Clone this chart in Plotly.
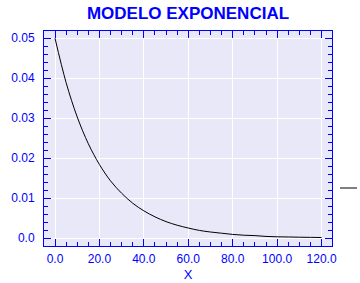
import plotly.graph_objects as go

x_vals = [0, 5, 10, 15, 20, 25, 30, 35, 40, 45, 50, 55, 60, 65, 70, 75, 80, 85, 90, 95, 100, 105, 110, 115, 120]
y_vals = [0.0500, 0.0389, 0.0303, 0.0236, 0.0184, 0.0143, 0.0112, 0.0087, 0.0068, 0.0053,
          0.0041, 0.0032, 0.0025, 0.0019, 0.0015, 0.0012, 0.0009, 0.0007, 0.0006, 0.0004,
          0.0003, 0.00026, 0.0002, 0.00016, 0.00012]
x_ticks = [0, 20, 40, 60, 80, 100, 120]
x_ticktext = ["0.0", "20.0", "40.0", "60.0", "80.0", "100.0", "120.0"]
y_ticks = [0.0, 0.01, 0.02, 0.03, 0.04, 0.05]
y_ticktext = ["0.0", "0.01", "0.02", "0.03", "0.04", "0.05"]

BLUE = "#0000FF"
FONT = "Liberation Sans, Arial, sans-serif"

fig = go.Figure()
fig.add_trace(go.Scatter(x=x_vals, y=y_vals, mode="lines", line=dict(color="black", width=1, shape="spline"),
                         showlegend=False, hoverinfo="skip"))

axis_common = dict(
    showline=True, linecolor=BLUE, linewidth=1, mirror="ticks",
    ticks="inside", ticklen=7, tickcolor=BLUE, tickwidth=1,
    showgrid=True, gridcolor="white", gridwidth=1, zeroline=False,
    tickfont=dict(family=FONT, size=12, color=BLUE), automargin=False,
)

fig.update_layout(
    width=360, height=283,
    margin=dict(l=44, r=28, t=31, b=37),
    paper_bgcolor="white", plot_bgcolor="#E8E8F8",
    title=dict(text="<b>MODELO EXPONENCIAL</b>", font=dict(family=FONT, size=17, color=BLUE),
               x=0.5, xref="paper", xanchor="center", y=1 - 13.5 / 283, yref="container", yanchor="middle"),
    xaxis=dict(range=[-4.95, 124.7], tickvals=x_ticks, ticktext=x_ticktext,
               minor=dict(ticks="inside", ticklen=4, tickcolor=BLUE, dtick=5, tick0=0, showgrid=False),
               title=dict(text="X", font=dict(family=FONT, size=13, color=BLUE), standoff=4),
               ticklabelstandoff=2,
               **axis_common),
    yaxis=dict(range=[-0.002, 0.0518], tickvals=y_ticks, ticktext=y_ticktext,
               minor=dict(ticks="inside", ticklen=4, tickcolor=BLUE, dtick=0.002, tick0=0, showgrid=False),
               ticklabelstandoff=6,
               **axis_common),
    showlegend=False,
)

fig.add_shape(type="line", xref="paper", yref="paper", x0=(340 - 44) / 288, x1=(357 - 44) / 288,
              y0=(246 - 188) / 215, y1=(246 - 188) / 215, line=dict(color="black", width=1))

fig.write_html("out.html")
